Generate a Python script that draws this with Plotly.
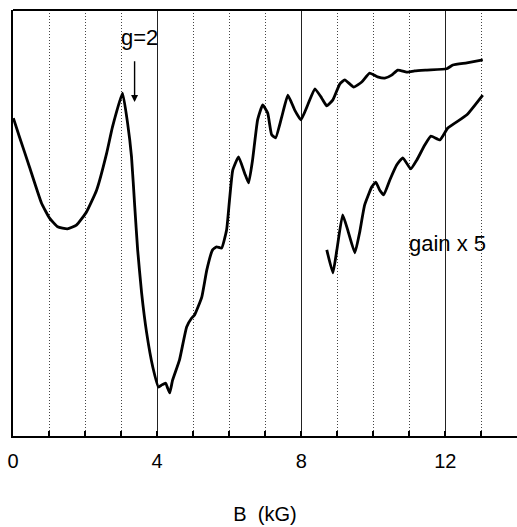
import plotly.graph_objects as go

# Main trace (B in kG, signal in arbitrary units)
b_main = [0.01, 0.18, 0.46, 0.79, 1.01, 1.24, 1.51, 1.76, 2.04, 2.32, 2.60, 2.76, 3.04,
          3.18, 3.29, 3.38, 3.46, 3.57, 3.71, 3.88, 4.04, 4.13, 4.24, 4.29, 4.35, 4.43,
          4.62, 4.82, 4.96, 5.04, 5.24, 5.38, 5.54, 5.65, 5.79, 5.93, 6.01, 6.10, 6.26,
          6.43, 6.54, 6.65, 6.79, 6.93, 7.07, 7.18, 7.29, 7.46, 7.63, 7.82, 7.99, 8.18,
          8.38, 8.57, 8.71, 8.88, 9.07, 9.21, 9.46, 9.68, 9.90, 10.12, 10.32, 10.51,
          10.68, 10.96, 11.15, 11.49, 12.04, 12.21, 12.60, 13.04]
s_main = [74.6, 70.2, 63.1, 54.7, 51.2, 49.1, 48.6, 49.5, 52.6, 57.7, 66.4, 72.5, 80.5,
          73.5, 65.5, 53.8, 43.7, 33.6, 24.2, 16.2, 11.5, 12.0, 12.4, 11.3, 10.1, 13.1,
          17.8, 25.6, 27.7, 28.4, 32.6, 39.0, 43.7, 44.4, 44.1, 48.4, 55.4, 62.4, 65.5,
          61.7, 59.4, 64.8, 74.2, 77.7, 75.8, 70.7, 70.0, 74.9, 80.0, 76.5, 74.2, 77.7,
          81.5, 79.3, 77.5, 78.9, 82.6, 83.6, 81.9, 83.1, 85.2, 84.3, 84.0, 84.7,
          85.9, 85.4, 85.7, 85.9, 86.2, 87.1, 87.6, 88.3]

# High-field part, gain x 5
b_gain = [8.71, 8.88, 8.99, 9.15, 9.29, 9.49, 9.62, 9.76, 9.96, 10.07, 10.18, 10.29,
          10.46, 10.65, 10.82, 11.04, 11.21, 11.43, 11.60, 11.85, 12.07, 12.60, 13.04]
s_gain = [43.7, 38.3, 43.7, 51.9, 48.4, 43.0, 47.7, 54.2, 58.5, 59.6, 57.7, 56.6,
          60.1, 63.6, 65.3, 62.7, 64.8, 68.3, 70.4, 69.5, 72.3, 75.4, 80.0]

tick_vals = [0, 4, 8, 12]
tick_text = ["0", "4", "8", "12"]

g2_b = 3.375
g2_tip, g2_tail = 78.4, 88.3

FONT = "Liberation Sans, Arial, sans-serif"

fig = go.Figure()
fig.add_trace(go.Scatter(x=b_main, y=s_main, mode="lines",
                         line=dict(color="black", width=2.8, shape="spline", smoothing=0.4),
                         showlegend=False))
fig.add_trace(go.Scatter(x=b_gain, y=s_gain, mode="lines",
                         line=dict(color="black", width=2.8, shape="spline", smoothing=0.4),
                         showlegend=False))

fig.add_annotation(x=g2_b, y=g2_tip, ax=g2_b, ay=g2_tail, xref="x", yref="y",
                   axref="x", ayref="y", text="", showarrow=True,
                   arrowhead=2, arrowsize=1, arrowwidth=1.4, arrowcolor="black")
fig.add_annotation(x=3.52, y=93.6, xref="x", yref="y", text="g=2", showarrow=False,
                   font=dict(family=FONT, size=22, color="black"))
fig.add_annotation(x=12.05, y=45.3, xref="x", yref="y", text="gain x 5", showarrow=False,
                   font=dict(family=FONT, size=22, color="black"))

# top border line
fig.add_shape(type="line", xref="paper", yref="paper", x0=0, x1=1, y0=1, y1=1,
              line=dict(color="black", width=2))

fig.update_layout(
    width=517, height=527,
    margin=dict(l=13, r=0, t=10, b=91),
    paper_bgcolor="white", plot_bgcolor="white",
    font=dict(family=FONT, size=20, color="black"),
    xaxis=dict(range=[0, 13.99], tickvals=tick_vals, ticktext=tick_text,
               showgrid=True, gridcolor="#222", gridwidth=1,
               ticks="inside", ticklen=5, tickwidth=1.5, tickcolor="black",
               ticklabelstandoff=6,
               showline=True, linecolor="black", linewidth=2,
               zeroline=False,
               minor=dict(dtick=1, tick0=0, showgrid=True, gridcolor="#444",
                          griddash="1px,2px", gridwidth=1, ticks="inside", ticklen=5,
                          tickcolor="black", tickwidth=1.5),
               title=dict(text="B  (kG)", standoff=36,
                          font=dict(family=FONT, size=20)),
               tickfont=dict(family=FONT, size=20)),
    yaxis=dict(range=[0, 100], showticklabels=False, showgrid=False, zeroline=False,
               showline=True, linecolor="black", linewidth=2, ticks=""),
)

fig.write_html("out.html")
